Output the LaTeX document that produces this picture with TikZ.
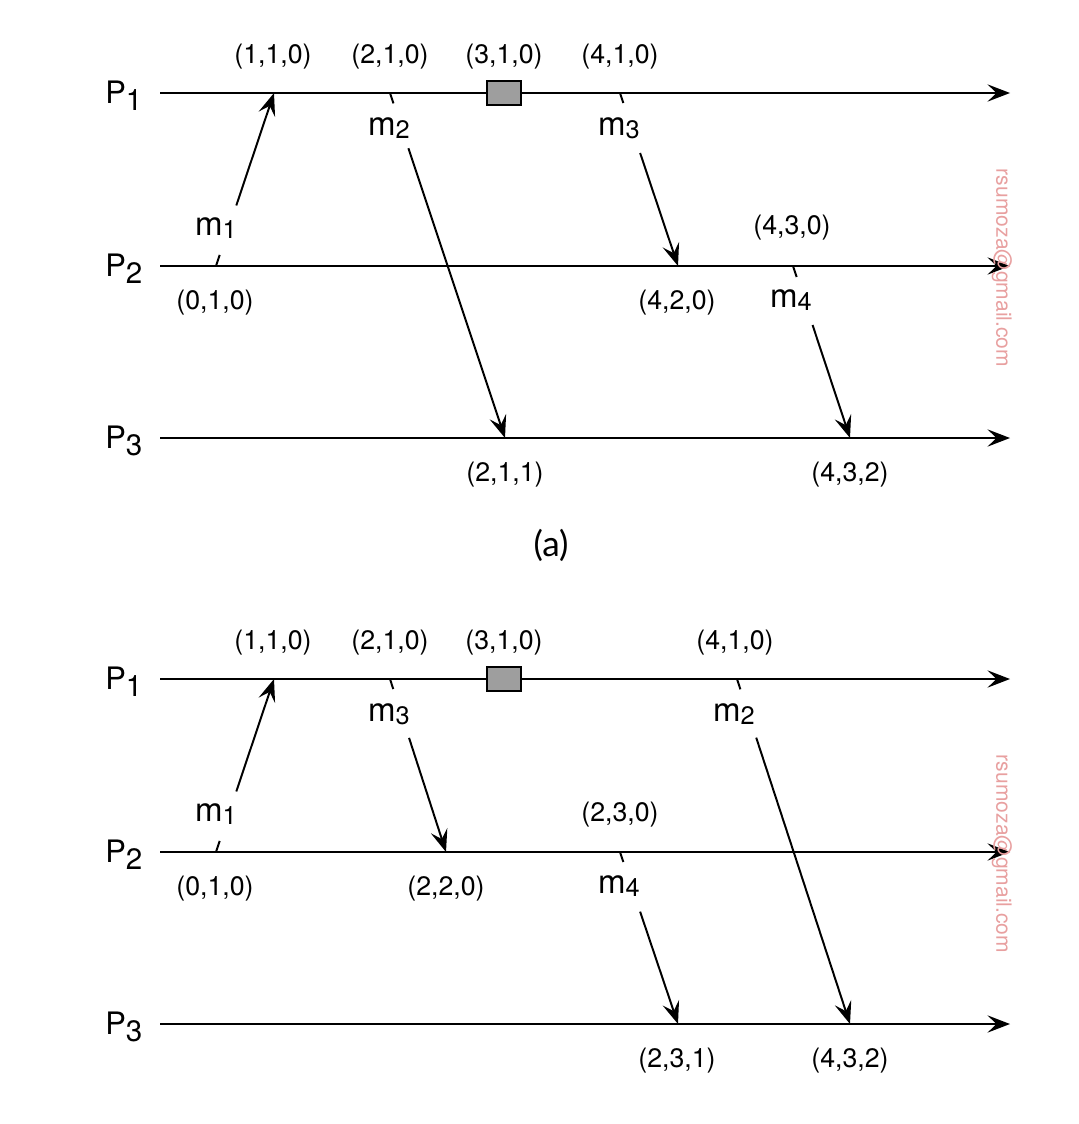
\documentclass[tikz,border=0pt]{standalone}
\usepackage{fontspec}
\setmainfont{TeX Gyre Heros}
\newfontfamily\fuenteTitulo{Lato}
\usetikzlibrary{arrows.meta,calc}
\definecolor{relojGris}{HTML}{9E9E9E}
\definecolor{marcaRoja}{HTML}{E8A0A0}
\newcommand{\proc}[1]{P\raisebox{-5pt}{\fontsize{21}{21}\selectfont #1}}
\newcommand{\msj}[1]{m\raisebox{-2.3pt}{\fontsize{18}{18}\selectfont #1}}
\tikzset{
  proceso/.style={line width=1.5pt, -{Stealth[length=5.6mm, width=4.3mm, inset=2.2mm]}},
  tramo/.style={line width=1.4pt},
  flechaMsg/.style={line width=1.4pt, -{Stealth[length=5.6mm, width=4.3mm, inset=2.2mm]}},
  nombreProc/.style={font=\fontsize{22}{24}\selectfont, inner sep=0pt, anchor=base west},
  etiqMsg/.style={font=\fontsize{23.5}{26}\selectfont, inner sep=0pt},
  vector/.style={font=\fontsize{19}{22}\selectfont, inner sep=0pt},
  reloj/.style={rectangle, draw, line width=1.1pt, fill=relojGris,
    minimum width=0.85cm, minimum height=0.6cm, inner sep=0pt},
  marca/.style={font=\fontsize{15}{17}\selectfont, text=marcaRoja,
    rotate=-90, inner sep=0pt},
}

\begin{document}
\begin{tikzpicture}[x=0.025cm, y=-0.025cm]
    \useasboundingbox (0,0) rectangle (1078,1124);
    % lineas de tiempo
    \foreach \fila/\y/\n in {a1/93/1, a2/266/2, a3/438/3, b1/679/1, b2/852/2, b3/1024/3}{
      \node[nombreProc] (P\fila) at (105,\y+10) {\proc{\n}};
      \coordinate (\fila-i) at (160,\y);
      \coordinate (\fila-f) at (1010,\y);
      \draw[proceso] (\fila-i) -- (\fila-f);
    }
    % eventos (a)
    \coordinate (a11) at (274,93);
    \coordinate (a12) at (390,93);
    \node[reloj] (a13) at (504,93) {};
    \coordinate (a14) at (620,93);
    \coordinate (a21) at (216,266);
    \coordinate (a22) at (678,266);
    \coordinate (a23) at (793,266);
    \coordinate (a31) at (505,438);
    \coordinate (a32) at (850,438);
    % eventos (b)
    \coordinate (b11) at (274,679);
    \coordinate (b12) at (390,679);
    \node[reloj] (b13) at (504,679) {};
    \coordinate (b14) at (737,679);
    \coordinate (b21) at (216,852);
    \coordinate (b22) at (446,852);
    \coordinate (b23) at (620,852);
    \coordinate (b31) at (678,1024);
    \coordinate (b32) at (850,1024);
    % mensajes
    \foreach \o/\d/\c/\r in {a21/a11/0.064/0.35, a12/a31/0.03/0.16, a14/a22/0.058/0.347,
        a23/a32/0.064/0.343, b21/b11/0.064/0.35, b12/b22/0.058/0.34,
        b14/b32/0.03/0.17, b23/b31/0.058/0.347}{
      \draw[tramo] (\o) -- ($(\o)!\c!(\d)$);
      \draw[flechaMsg] ($(\o)!\r!(\d)$) -- (\d);
    }
    \node[etiqMsg] (ma1) at (216,228) {\msj{1}};
    \node[etiqMsg] (ma2) at (389,128) {\msj{2}};
    \node[etiqMsg] (ma3) at (619,128) {\msj{3}};
    \node[etiqMsg] (ma4) at (791,300) {\msj{4}};
    \node[etiqMsg] (mb1) at (216,814) {\msj{1}};
    \node[etiqMsg] (mb3) at (389,714) {\msj{3}};
    \node[etiqMsg] (mb2) at (734,714) {\msj{2}};
    \node[etiqMsg] (mb4) at (619,886) {\msj{4}};
    % relojes vectoriales (a)
    \node[vector] (ra11) at (273,57) {(1,1,0)};
    \node[vector] (ra12) at (390,57) {(2,1,0)};
    \node[vector] (ra13) at (504,57) {(3,1,0)};
    \node[vector] (ra14) at (620,57) {(4,1,0)};
    \node[vector] (ra21) at (215,303) {(0,1,0)};
    \node[vector] (ra22) at (677,303) {(4,2,0)};
    \node[vector] (ra23) at (792,228) {(4,3,0)};
    \node[vector] (ra31) at (505,475) {(2,1,1)};
    \node[vector] (ra32) at (850,475) {(4,3,2)};
    % relojes vectoriales (b)
    \node[vector] (rb11) at (273,643) {(1,1,0)};
    \node[vector] (rb12) at (390,643) {(2,1,0)};
    \node[vector] (rb13) at (504,643) {(3,1,0)};
    \node[vector] (rb14) at (735,643) {(4,1,0)};
    \node[vector] (rb21) at (215,889) {(0,1,0)};
    \node[vector] (rb22) at (446,889) {(2,2,0)};
    \node[vector] (rb23) at (620,815) {(2,3,0)};
    \node[vector] (rb31) at (677,1061) {(2,3,1)};
    \node[vector] (rb32) at (850,1061) {(4,3,2)};
    \node[font=\fuenteTitulo\fontsize{25}{28}\selectfont] (titA) at (551,545) {(a)};
    \node[marca] (marcaA) at (1002,268) {rsumoza@gmail.com};
    \node[marca] (marcaB) at (1002,854) {rsumoza@gmail.com};
  \end{tikzpicture}
\end{document}
